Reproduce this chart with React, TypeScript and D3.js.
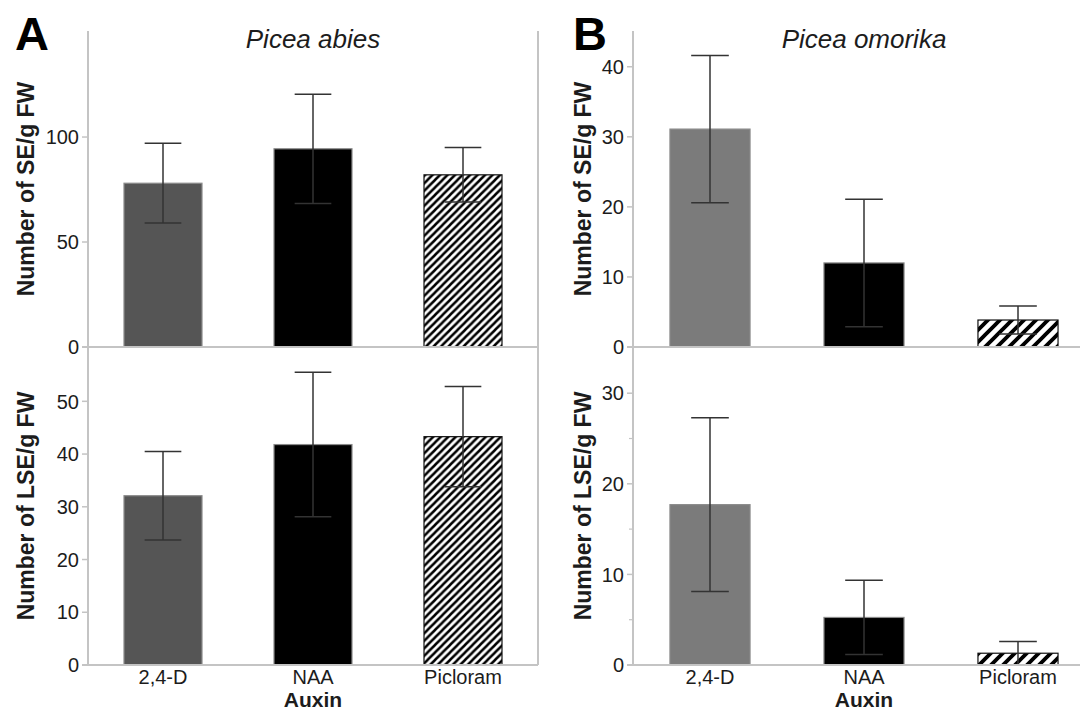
import React from 'react';
import * as d3 from 'd3';

const categories = ['2,4-D', 'NAA', 'Picloram'];

// Picea abies
const abiesSE = [78, 94.4, 82];
const abiesSEerr = [19, 26, 13];
const abiesLSE = [32.1, 41.8, 43.3];
const abiesLSEerr = [8.4, 13.7, 9.5];

// Picea omorika
const omorikaSE = [31.1, 12, 3.85];
const omorikaSEerr = [10.5, 9.1, 2.0];
const omorikaLSE = [17.7, 5.25, 1.3];
const omorikaLSEerr = [9.6, 4.1, 1.3];

const abiesSETicks = [0, 50, 100];
const abiesLSETicks = [0, 10, 20, 30, 40, 50];
const omorikaSETicks = [0, 10, 20, 30, 40];
const omorikaLSETicks = [0, 10, 20, 30];
const omorikaLSEMinor = [5, 15, 25];

const FONT = 'Liberation Sans, Arial, Helvetica, sans-serif';
const AXIS = '#c4c4c4';
const INK = '#1c1c1c';
const ERR = '#333';

const TOP = [347, 31];
const BOT = [665, 347];

type SubProps = {
  x: d3.ScaleBand<string>;
  yRange: number[];
  yMax: number;
  values: number[];
  errs: number[];
  ticks: number[];
  minor?: number[];
  fills: string[];
  label: string;
  labelX: number;
  rightEdge: number;
};

function SubPlot({ x, yRange, yMax, values, errs, ticks, minor = [], fills, label, labelX, rightEdge }: SubProps) {
  const y = d3.scaleLinear().domain([0, yMax]).range(yRange);
  const x0 = x.range()[0];
  const cap = x.bandwidth() * 0.235;
  return (
    <g>
      {categories.map((c, i) => {
        const bx = x(c)!;
        const cx = bx + x.bandwidth() / 2;
        const hatched = fills[i].startsWith('url');
        return (
          <g key={c}>
            <rect x={bx} y={y(values[i])} width={x.bandwidth()} height={y(0) - y(values[i])}
              fill={fills[i]} stroke={hatched ? '#111' : '#8a8a8a'} strokeWidth={1.2} />
            <line x1={cx} x2={cx} y1={y(values[i] + errs[i])} y2={y(values[i] - errs[i])} stroke={ERR} strokeWidth={1.5} />
            <line x1={cx - cap} x2={cx + cap} y1={y(values[i] + errs[i])} y2={y(values[i] + errs[i])} stroke={ERR} strokeWidth={1.5} />
            <line x1={cx - cap} x2={cx + cap} y1={y(values[i] - errs[i])} y2={y(values[i] - errs[i])} stroke={ERR} strokeWidth={1.5} />
          </g>
        );
      })}
      <line x1={x0 - 6} x2={rightEdge} y1={y(0)} y2={y(0)} stroke={AXIS} strokeWidth={2} />
      {ticks.map(t => (
        <g key={t}>
          <line x1={x0 - 6} x2={x0} y1={y(t)} y2={y(t)} stroke={AXIS} strokeWidth={1.5} />
          <text x={x0 - 9} y={y(t)} dy="0.36em" textAnchor="end" fontFamily={FONT} fontSize={20} fill={INK}>{t}</text>
        </g>
      ))}
      {minor.map(t => (
        <line key={t} x1={x0 - 4} x2={x0} y1={y(t)} y2={y(t)} stroke={AXIS} strokeWidth={1.2} />
      ))}
      <text transform={`translate(${labelX},${(yRange[0] + yRange[1]) / 2}) rotate(-90)`} dy="0.35em"
        textAnchor="middle" fontFamily={FONT} fontWeight="bold" fontSize={23} fill={INK}>{label}</text>
    </g>
  );
}

export default function App() {
  const W = 1080, H = 713;
  const xA = d3.scaleBand<string>().domain(categories).range([88, 538]).paddingInner(0.48).paddingOuter(0.24);
  const xB = d3.scaleBand<string>().domain(categories).range([633, 1095]).paddingInner(0.48).paddingOuter(0.24);
  const midA = (88 + 538) / 2;
  const midB = (633 + 1095) / 2;

  return (
    <div style={{ position: 'absolute', left: 0, top: 0 }}>
      <svg width={W} height={H} viewBox={`0 0 ${W} ${H}`} style={{ display: 'block', background: '#fff' }}>
        <defs>
          <pattern id="hatchA" patternUnits="userSpaceOnUse" width={7.5} height={7.5}>
            <rect width={7.5} height={7.5} fill="#fff" />
            <path d="M0,7.5 L7.5,0 M-1.875,1.875 L1.875,-1.875 M5.625,9.375 L9.375,5.625" stroke="#000" strokeWidth={2.5} />
          </pattern>
          <pattern id="hatchB" patternUnits="userSpaceOnUse" width={12} height={12}>
            <rect width={12} height={12} fill="#fff" />
            <path d="M0,12 L12,0 M-3,3 L3,-3 M9,15 L15,9" stroke="#000" strokeWidth={3.8} />
          </pattern>
        </defs>

        {/* panel A frame */}
        <line x1={88} x2={88} y1={31} y2={665} stroke={AXIS} strokeWidth={2} />
        <line x1={538} x2={538} y1={31} y2={665} stroke={AXIS} strokeWidth={2} />
        {/* panel B frame */}
        <line x1={633} x2={633} y1={31} y2={665} stroke={AXIS} strokeWidth={2} />

        <SubPlot x={xA} yRange={TOP} yMax={150.5} values={abiesSE} errs={abiesSEerr} ticks={abiesSETicks}
          fills={['#555555', '#000000', 'url(#hatchA)']} label="Number of SE/g FW" labelX={26} rightEdge={538} />
        <SubPlot x={xA} yRange={BOT} yMax={60.3} values={abiesLSE} errs={abiesLSEerr} ticks={abiesLSETicks}
          fills={['#555555', '#000000', 'url(#hatchA)']} label="Number of LSE/g FW" labelX={26} rightEdge={538} />
        <SubPlot x={xB} yRange={TOP} yMax={45.1} values={omorikaSE} errs={omorikaSEerr} ticks={omorikaSETicks}
          fills={['#7b7b7b', '#000000', 'url(#hatchB)']} label="Number of SE/g FW" labelX={583} rightEdge={1080} />
        <SubPlot x={xB} yRange={BOT} yMax={35.1} values={omorikaLSE} errs={omorikaLSEerr} ticks={omorikaLSETicks}
          minor={omorikaLSEMinor} fills={['#7b7b7b', '#000000', 'url(#hatchB)']} label="Number of LSE/g FW" labelX={583} rightEdge={1080} />

        {/* category labels */}
        {categories.map(c => (
          <g key={c}>
            <text x={xA(c)! + xA.bandwidth() / 2} y={684} textAnchor="middle" fontFamily={FONT} fontSize={20} fill={INK}>{c}</text>
            <text x={xB(c)! + xB.bandwidth() / 2} y={684} textAnchor="middle" fontFamily={FONT} fontSize={20} fill={INK}>{c}</text>
          </g>
        ))}
        <text x={midA} y={707} textAnchor="middle" fontFamily={FONT} fontWeight="bold" fontSize={21} fill={INK}>Auxin</text>
        <text x={midB} y={707} textAnchor="middle" fontFamily={FONT} fontWeight="bold" fontSize={21} fill={INK}>Auxin</text>

        {/* panel titles */}
        <text x={15} y={50} fontFamily={FONT} fontWeight="bold" fontSize={47} fill="#000">A</text>
        <text x={573} y={50} fontFamily={FONT} fontWeight="bold" fontSize={47} fill="#000">B</text>
        <text x={midA} y={48} textAnchor="middle" fontFamily={FONT} fontStyle="italic" fontSize={26} fill={INK}>Picea abies</text>
        <text x={midB} y={48} textAnchor="middle" fontFamily={FONT} fontStyle="italic" fontSize={26} fill={INK}>Picea omorika</text>
      </svg>
    </div>
  );
}
